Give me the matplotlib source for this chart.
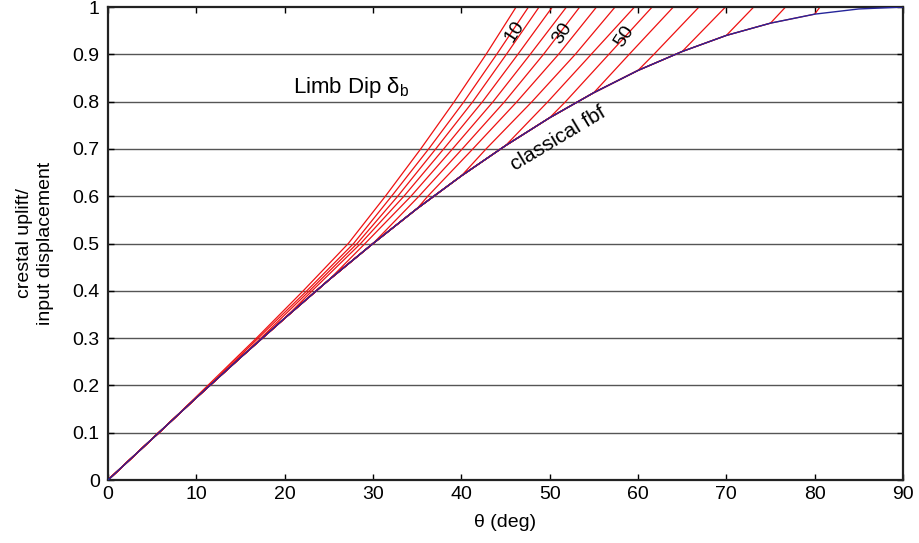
import matplotlib
matplotlib.use("Agg")
import matplotlib.pyplot as plt
import numpy as np

plt.rcParams["font.family"] = ["Liberation Sans", "DejaVu Sans"]
plt.rcParams["mathtext.fontset"] = "custom"
plt.rcParams["mathtext.rm"] = "Liberation Sans"

# classical fault-bend fold curve, every 5 deg
theta_blue = [0, 5, 10, 15, 20, 25, 30, 35, 40, 45, 50, 55, 60, 65, 70, 75, 80, 85, 90]
uplift_blue = [0.0, 0.087, 0.174, 0.259, 0.342, 0.423, 0.5, 0.574, 0.643, 0.707,
               0.766, 0.819, 0.866, 0.906, 0.940, 0.966, 0.985, 0.996, 1.0]

# limb dip curves: each leaves the classical curve at theta = limb dip,
# then theta (deg) where it crosses each uplift level (nan = still on classical)
limb_dips = [5, 10, 15, 20, 25, 30, 35, 40, 45, 50, 55, 60, 65, 70, 75, 80]
uplift_levels = [0.1, 0.2, 0.3, 0.4, 0.5, 0.6, 0.7, 0.8, 0.9, 1.0]
nan = np.nan
red_theta = [
    [5.8, 11.3, 16.8, 22.1, 27.2, 31.4, 35.4, 39.2, 42.8, 46.2],
    [nan, 11.5, 17.0, 22.5, 27.8, 32.1, 36.3, 40.3, 44.0, 47.6],
    [nan, nan, 17.3, 22.8, 28.2, 32.8, 37.1, 41.3, 45.1, 48.8],
    [nan, nan, nan, 23.1, 28.6, 33.5, 38.0, 42.4, 46.4, 50.3],
    [nan, nan, nan, nan, 29.1, 34.3, 39.0, 43.6, 47.8, 51.9],
    [nan, nan, nan, nan, nan, 35.2, 40.1, 44.9, 49.3, 53.4],
    [nan, nan, nan, nan, nan, 36.2, 41.3, 46.3, 51.0, 55.3],
    [nan, nan, nan, nan, nan, nan, 42.8, 48.0, 52.9, 57.4],
    [nan, nan, nan, nan, nan, nan, nan, 49.8, 54.7, 59.6],
    [nan, nan, nan, nan, nan, nan, nan, 51.8, 56.7, 61.6],
    [nan, nan, nan, nan, nan, nan, nan, nan, 59.0, 64.0],
    [nan, nan, nan, nan, nan, nan, nan, nan, 61.8, 66.9],
    [nan, nan, nan, nan, nan, nan, nan, nan, nan, 69.9],
    [nan, nan, nan, nan, nan, nan, nan, nan, nan, 73.1],
    [nan, nan, nan, nan, nan, nan, nan, nan, nan, 76.7],
    [nan, nan, nan, nan, nan, nan, nan, nan, nan, 80.6],
]

dip_labels = ["10", "30", "50"]
dip_label_pos = [(46.0, 0.949), (51.4, 0.945), (58.5, 0.937)]

x_ticks = list(range(0, 91, 10))
y_ticks = [0, 0.1, 0.2, 0.3, 0.4, 0.5, 0.6, 0.7, 0.8, 0.9, 1.0]
y_tick_labels = ["0", "0.1", "0.2", "0.3", "0.4", "0.5", "0.6", "0.7", "0.8", "0.9", "1"]

RED = "#ee1111"
BLUE = "#25259a"

fig = plt.figure(figsize=(9.2, 5.43), dpi=100)
ax = fig.add_axes([0.1174, 0.116, 0.8641, 0.871])

for y in y_ticks[1:-1]:
    ax.axhline(y, color="#555555", lw=1.0, zorder=1)

tb = np.array(theta_blue, dtype=float)
ub = np.array(uplift_blue)
lev = np.array(uplift_levels)
for dip, row in zip(limb_dips, red_theta):
    row = np.array(row)
    on_classical = tb <= dip
    keep = ~np.isnan(row)
    xs = np.concatenate([tb[on_classical], row[keep]])
    ys = np.concatenate([ub[on_classical], lev[keep]])
    ax.plot(xs, ys, color=RED, lw=0.9, zorder=2)

ax.plot(theta_blue, uplift_blue, color=BLUE, lw=1.0, zorder=3)

for txt, (tx, ty) in zip(dip_labels, dip_label_pos):
    ax.text(tx, ty, txt, rotation=57, fontsize=14, ha="center", va="center", zorder=4)

ax.text(27.5, 0.83, r"Limb Dip δ$_{\mathrm{b}}$", fontsize=16, ha="center", va="center")
ax.text(51.0, 0.722, "classical fbf", rotation=31, fontsize=15, ha="center", va="center")

ax.set_xlim(0, 90)
ax.set_ylim(0, 1)
ax.set_xticks(x_ticks)
ax.set_yticks(y_ticks)
ax.set_yticklabels(y_tick_labels)
ax.tick_params(direction="in", top=True, right=True, labelsize=14, length=4,
               width=1.0, colors="black")
ax.tick_params(axis="y", pad=6)
ax.tick_params(axis="x", pad=4)
for sp in ax.spines.values():
    sp.set_linewidth(1.6)
    sp.set_color("#222222")

ax.set_xlabel("θ (deg)", fontsize=14, labelpad=8)
ax.set_ylabel("crestal uplift/\ninput displacement", fontsize=14, labelpad=13,
              linespacing=1.3)

fig.savefig("out.png", dpi=100)
